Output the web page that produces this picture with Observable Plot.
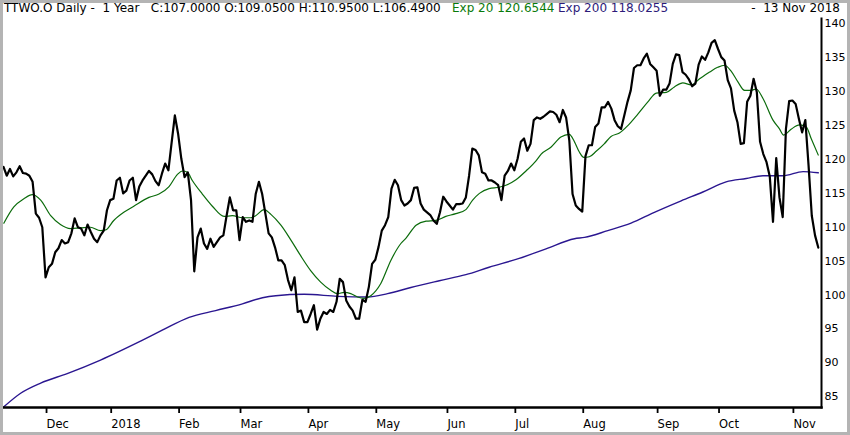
<!DOCTYPE html>
<html><head><meta charset="utf-8">
<script src="https://cdn.jsdelivr.net/npm/d3@7"></script>
<script src="https://cdn.jsdelivr.net/npm/@observablehq/plot@0.6"></script>
<style>
body{margin:0;background:#fff;}
#wrap{position:relative;width:850px;height:435px;overflow:hidden;background:#fff;}
#border{position:absolute;left:0;top:0;width:850px;height:435px;box-sizing:border-box;border:3px solid #b4b4b4;pointer-events:none;}
.t{position:absolute;top:1px;font-family:"DejaVu Sans",sans-serif;font-size:12px;white-space:pre;line-height:14px;}
#chart svg{display:block;}
</style></head><body>
<div id="wrap"><div id="chart"></div>
<div class="t" style="left:4px;color:#000">TTWO.O Daily -  1 Year   C:107.0000 O:109.0500 H:110.9500 L:106.4900</div>
<div class="t" style="left:452px;color:#0a7a0a">Exp 20 120.6544</div>
<div class="t" style="left:558px;color:#2d1b7a">Exp 200 118.0255</div>
<div class="t" style="right:10px;color:#000">-  13 Nov 2018</div>
<div id="border"></div></div>
<script>
// Daily closes, trading-day index 0 (13 Nov 2017) .. 252 (13 Nov 2018)
const closes = [
118.9,117.6,118.6,117.5,118.1,119.0,118.0,117.9,117.6,116.7,
112.0,111.4,110.0,102.6,104.1,104.6,106.3,106.9,108.1,107.6,
107.8,109.1,111.3,110.0,109.8,108.8,110.4,109.3,108.3,107.8,
108.8,109.5,112.5,114.0,114.2,116.9,117.3,115.0,115.4,116.9,
117.3,114.0,116.0,116.9,117.6,118.3,117.8,116.8,116.2,117.9,
119.4,118.4,122.5,126.5,123.8,120.1,117.4,118.1,114.0,103.5,
108.5,109.8,107.6,106.8,108.3,107.1,107.8,108.5,108.8,111.7,
114.4,112.5,112.5,108.1,111.5,110.8,111.0,110.8,114.9,116.7,
114.9,112.0,109.1,108.5,107.0,105.1,105.1,104.4,102.2,100.7,
102.6,97.5,97.7,96.0,96.0,97.2,98.5,94.9,96.5,97.5,
97.2,97.8,97.5,99.0,102.4,101.9,99.2,98.3,97.7,96.5,
96.5,99.3,99.0,101.2,104.6,105.2,107.1,109.5,110.3,111.5,
115.7,117.0,116.2,114.0,113.2,113.5,114.0,115.8,115.9,113.5,
112.6,112.2,111.8,111.0,110.5,112.2,114.5,113.8,113.2,112.6,
113.4,113.4,113.5,114.4,117.6,121.6,121.4,120.6,118.1,117.9,
116.9,116.9,116.6,116.2,114.0,117.6,118.3,119.4,118.4,120.1,
122.6,123.1,121.3,122.3,125.8,126.2,126.0,126.3,126.7,127.1,
127.0,126.6,125.5,127.3,126.2,122.8,114.9,113.2,112.7,112.3,
120.5,122.1,122.1,124.8,125.3,127.7,127.7,128.5,127.5,125.8,
124.9,124.5,126.5,128.5,130.2,133.5,133.9,133.9,134.9,135.6,
134.1,133.6,133.1,129.4,130.3,130.3,131.2,134.1,135.5,135.4,
132.9,132.5,131.8,130.8,131.2,134.0,135.2,134.7,135.8,137.2,
137.6,136.3,135.1,134.6,131.7,130.5,127.2,125.5,122.3,122.4,
128.5,129.4,131.9,129.9,122.6,120.8,119.6,117.5,110.8,120.2,
114.4,111.5,124.5,128.6,128.7,128.2,126.0,124.0,125.8,119.1,
111.7,108.8,107.0
];
// Exp 20 (trading-day index, value)
const ema20Index = [0.1,3.2,6.3,8.9,11.5,14.6,17.6,20.7,23.8,26.9,30.0,31.6,34.1,37.2,40.3,45.0,48.1,51.2,53.8,55.3,56.9,58.4,61.5,64.6,68.2,70.8,73.9,76.5,78.0,80.6,82.7,85.8,88.9,91.9,95.0,98.1,101.2,103.3,105.4,107.4,109.5,111.5,113.6,116.7,119.8,122.9,124.5,127.6,130.7,133.7,136.8,139.9,143.0,145.1,147.2,150.2,153.3,155.4,158.5,161.6,164.7,166.3,169.3,172.4,175.0,176.6,178.1,179.5,181.2,183.3,185.8,187.9,190.5,193.1,196.2,199.3,201.9,205.0,207.5,210.1,212.7,215.3,218.4,220.9,223.0,225.1,227.2,229.2,231.3,232.8,234.9,238.0,240.0,241.3,243.7,246.2,248.3,249.8,252.0];
const ema20Value = [110.6,113.0,114.2,114.8,114.0,111.7,110.4,109.8,109.9,110.0,109.5,109.6,111.0,112.2,113.1,114.4,114.9,116.0,117.8,118.3,118.1,116.9,114.9,113.1,111.6,111.7,111.4,111.4,111.7,112.6,111.9,110.3,108.1,105.8,103.6,101.9,100.7,100.2,100.4,100.2,99.7,99.5,99.9,101.7,105.1,107.6,108.4,110.3,110.9,111.0,111.6,112.0,112.6,114.0,115.0,115.7,115.9,116.2,117.0,118.3,119.8,120.8,121.8,123.3,123.7,122.6,121.1,120.3,120.4,121.2,122.3,123.4,123.9,125.0,126.7,128.5,129.8,129.9,130.7,131.3,131.0,131.9,132.9,133.6,133.9,133.0,131.4,130.2,130.2,130.4,129.0,125.8,124.5,123.6,124.5,125.1,124.8,123.1,120.65];
// Exp 200 (trading-day index, value)
const ema200Index = [0.1,5.3,11.5,19.7,30.0,42.4,49.1,57.4,65.6,73.9,80.1,84.2,93.0,103.3,112.6,118.8,126.0,134.8,143.0,150.2,159.5,167.8,176.6,179.7,186.9,194.1,201.3,209.6,216.3,223.5,229.7,234.9,241.1,247.3,252.0];
const ema200Value = [83.5,85.5,87.0,88.4,90.4,93.2,94.8,96.7,97.7,98.7,99.6,99.9,100.1,99.8,99.7,100.2,101.1,102.1,103.0,104.1,105.4,106.8,108.3,108.5,109.5,110.6,112.2,113.9,115.2,116.7,117.2,117.6,117.6,118.2,118.03];
const monthTickIndex = [13,33,54,73,94,115,137,158,179,202,221,244];
const monthTickLabel = ["Dec","2018","Feb","Mar","Apr","May","Jun","Jul","Aug","Sep","Oct","Nov"];
const priceTicks = [85,90,95,100,105,110,115,120,125,130,135,140];

const price = closes.map((v, i) => ({i, v}));
const e20 = ema20Index.map((i, k) => ({i, v: ema20Value[k]}));
const e200 = ema200Index.map((i, k) => ({i, v: ema200Value[k]}));

const chart = Plot.plot({
  width: 850, height: 435,
  marginLeft: 3, marginRight: 29, marginTop: 18, marginBottom: 28,
  style: {fontFamily: "DejaVu Sans, sans-serif", fontSize: "11px", color: "#000", background: "transparent"},
  x: {domain: [0, 253]},
  y: {domain: [83.4, 140.8]},
  marks: [
    Plot.line(e200, {x: "i", y: "v", stroke: "#2a1690", strokeWidth: 1.4, curve: "monotone-x"}),
    Plot.line(e20, {x: "i", y: "v", stroke: "#0b6b0b", strokeWidth: 1.2, curve: "monotone-x"}),
    Plot.line(price, {x: "i", y: "v", stroke: "#000", strokeWidth: 2.2, strokeLinejoin: "round"}),
    Plot.frame({anchor: "bottom", strokeWidth: 2.5, stroke: "#000"}),
    Plot.frame({anchor: "right", strokeWidth: 2, stroke: "#000"}),
    Plot.axisX({ticks: monthTickIndex, tickFormat: d => monthTickLabel[monthTickIndex.indexOf(d)], tickSize: 6, tickPadding: 6, textAnchor: "start", dx: 1, strokeWidth: 1.8, fontSize: 11.5, label: null}),
    Plot.axisY({anchor: "right", ticks: priceTicks, tickSize: 0, tickPadding: 3, tickFormat: d => String(d), label: null})
  ]
});
document.getElementById("chart").append(chart);
</script>
</body></html>
